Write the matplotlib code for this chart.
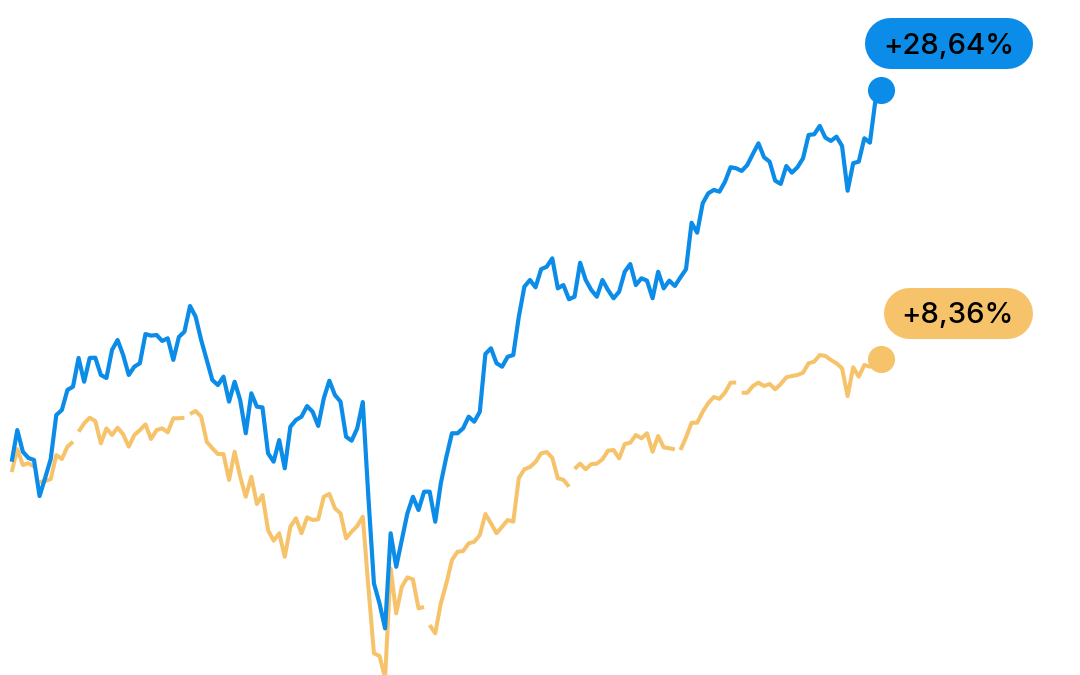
import numpy as np
import matplotlib
matplotlib.use("Agg")
import matplotlib.pyplot as plt
import matplotlib.transforms as mtransforms
from matplotlib.lines import Line2D

# ---- data (percent change, weekly-ish points) ----
blue_values = [
    0.65, 3.03, 1.40, 0.93, 0.78, -1.94, -0.58, 0.85, 4.16, 4.54,
    6.05, 6.30, 8.46, 6.67, 8.46, 8.48, 7.18, 6.95, 9.06, 9.81,
    8.68, 7.18, 7.80, 8.06, 10.26, 10.14, 10.19, 9.74, 9.94, 8.31,
    10.04, 10.44, 12.37, 11.57, 9.81, 8.31, 6.80, 6.42, 7.05, 5.17,
    6.67, 5.29, 2.79, 5.80, 4.79, 4.74, 1.28, 0.65, 2.28, 0.15,
    3.28, 3.79, 4.04, 4.84, 4.41, 3.34, 5.42, 6.75, 5.67, 5.17,
    2.53, 2.23, 3.16, 5.14, -1.99, -8.51, -10.02, -11.90, -4.74, -7.26,
    -5.25, -3.24, -1.99, -2.99, -1.61, -1.61, -3.87, -0.98, 1.02, 2.79,
    2.79, 3.16, 4.04, 3.66, 4.41, 8.76, 9.19, 8.06, 7.80, 8.55,
    8.68, 11.57, 13.83, 14.33, 13.78, 15.14, 15.33, 15.96, 13.70, 13.95,
    12.88, 13.07, 15.63, 14.33, 13.58, 13.07, 14.33, 13.58, 12.95, 13.45,
    14.95, 15.53, 13.95, 14.46, 14.28, 12.95, 14.95, 13.70, 14.28, 13.88,
    14.53, 15.14, 18.64, 17.89, 20.11, 20.86, 21.11, 20.98, 21.73, 22.82,
    22.74, 22.54, 22.99, 23.82, 24.62, 23.57, 23.24, 21.81, 21.56, 22.91,
    22.41, 22.82, 23.49, 25.25, 25.30, 25.93, 25.05, 24.80, 25.12, 24.42,
    21.05, 23.12, 23.24, 25.00, 24.67, 27.88, 28.64,
]

orange_values = [
    -0.13, 1.60, 0.40, 0.53, 0.29, -0.88, -0.81, -0.66, 1.15, 0.85,
    1.78, 2.15, 2.91, 3.54, 3.96, 3.71, 2.03, 3.16, 2.66, 3.21,
    2.71, 1.78, 2.66, 3.03, 3.46, 2.36, 3.03, 3.16, 2.86, 3.92,
    3.92, 3.96, 4.24, 4.47, 4.04, 2.15, 1.66, 1.23, 1.23, -0.73,
    1.40, -0.48, -1.99, -0.48, -2.54, -1.86, -4.50, -5.30, -4.74, -6.51,
    -4.25, -3.61, -4.74, -3.54, -3.74, -3.69, -1.99, -1.78, -2.86, -3.24,
    -5.12, -4.62, -4.19, -3.49, -8.77, -13.78, -13.98, -15.64, -7.38, -10.77,
    -8.77, -8.06, -8.21, -10.39, -10.29, -11.65, -12.27, -10.02, -8.51, -6.75,
    -6.13, -6.08, -5.50, -5.38, -4.87, -3.29, -3.99, -4.74, -4.25, -3.74,
    -3.87, -0.58, 0.08, 0.25, 0.63, 1.28, 1.38, 0.94, -0.60, -0.71,
    -1.23, 0.11, 0.50, 0.08, 0.47, 0.50, 0.83, 1.48, 1.53, 0.90,
    1.98, 2.08, 2.66, 2.41, 2.79, 1.40, 2.58, 1.73, 1.66, 1.58,
    1.53, 2.48, 3.58, 3.58, 4.41, 5.07, 5.52, 5.38, 5.86, 6.60,
    6.61, 5.84, 5.84, 6.35, 6.60, 6.35, 6.50, 6.10, 6.50, 7.00,
    7.10, 7.18, 7.35, 8.06, 8.18, 8.68, 8.61, 8.31, 8.06, 7.68,
    5.59, 7.76, 7.05, 7.93, 7.80, 8.08, 8.36,
]

# the orange line is interrupted after these points
orange_breaks = [4, 11, 31, 74, 100, 119, 130]

labels = ["+28,64%", "+8,36%"]

# ---- style ----
BLUE = "#0B8CE8"
ORANGE = "#F6C36B"

fig = plt.figure(figsize=(10.8, 6.75), dpi=100)
fig.patch.set_facecolor("white")
ax = fig.add_axes([0, 0, 1, 1])
ax.set_axis_off()

x = np.arange(len(blue_values))

ox, oy = [], []
for i, v in enumerate(orange_values):
    ox.append(i)
    oy.append(v)
    if i in orange_breaks:
        ox.append(i + 0.5)
        oy.append(np.nan)

ax.plot(ox, oy, color=ORANGE, lw=2.9, solid_joinstyle="round",
        solid_capstyle="butt", zorder=2)
ax.plot(x, blue_values, color=BLUE, lw=3.0, solid_joinstyle="round",
        solid_capstyle="butt", zorder=3)

ax.set_xlim(-2.10, 191.7)
ax.set_ylim(-15.41, 35.41)

last = len(blue_values) - 1
ax.plot([last], [blue_values[-1]], "o", color=BLUE, ms=19.5, mec="none", zorder=4)
ax.plot([last], [orange_values[-1]], "o", color=ORANGE, ms=19.5, mec="none", zorder=4)

renderer = fig.canvas.get_renderer()
PILL_H = 51  # pixels


def pill(xi, yi, text, color):
    ann = ax.annotate(text, xy=(xi, yi), xytext=(133, 36),
                      textcoords="offset pixels", ha="right", va="baseline",
                      fontsize=21, fontweight="medium",
                      family=["Inter", "DejaVu Sans"],
                      color="black", zorder=6)
    bb = ann.get_window_extent(renderer=renderer)
    width = bb.width + 36
    trans = mtransforms.ScaledTranslation(xi, yi, ax.transData)
    r = PILL_H / 2
    left, right = 151 - width, 151
    cy = 21 + r
    # stadium shape: a thick line with round caps, in pixel offsets
    seg = Line2D([left + r, right - r], [cy, cy], transform=trans,
                 color=color, lw=PILL_H * 72 / fig.dpi,
                 solid_capstyle="round", zorder=5, clip_on=False)
    ax.add_artist(seg)


pill(last, blue_values[-1], labels[0], BLUE)
pill(last, orange_values[-1], labels[1], ORANGE)

fig.savefig("out.png", dpi=100)
